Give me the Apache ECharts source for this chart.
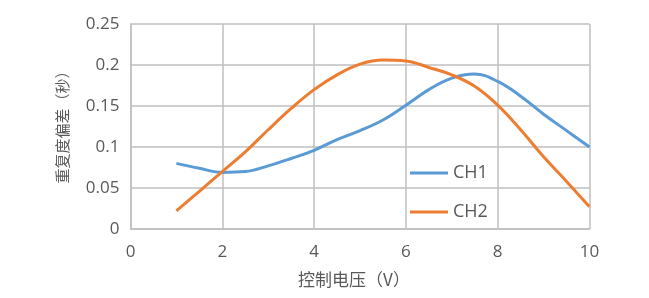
<!DOCTYPE html>
<html><head><meta charset="utf-8">
<script src="https://cdn.jsdelivr.net/npm/echarts@6/dist/echarts.min.js"></script>
<style>html,body{margin:0;padding:0;background:#fff}#c{width:649px;height:298px}</style>
</head><body><div id="c"></div>
<script>
var xValues = [1, 1.5, 2, 2.5, 3, 3.5, 4, 4.5, 5, 5.5, 6, 6.5, 7, 7.5, 8, 8.5, 9, 9.5, 10];
var ch1 = [0.080, 0.074, 0.069, 0.070, 0.077, 0.086, 0.096, 0.109, 0.120, 0.133, 0.151, 0.170, 0.184, 0.189, 0.180, 0.162, 0.140, 0.120, 0.100];
var ch2 = [0.022, 0.046, 0.070, 0.094, 0.121, 0.147, 0.170, 0.188, 0.201, 0.206, 0.205, 0.197, 0.188, 0.174, 0.151, 0.121, 0.088, 0.058, 0.027];
var seriesNames = ['CH1', 'CH2'];
var xName = '控制电压（V）';
var yName = '重复度偏差（秒）';

var font = '"Open Sans","Noto Sans CJK SC",sans-serif';
var cjkFont = '"Noto Sans CJK SC","Open Sans",sans-serif';
var chart = echarts.init(document.getElementById('c'));
function pairs(v){ return xValues.map(function(x,i){return [x, v[i]];}); }
chart.setOption({
  animation: false,
  textStyle: {fontFamily: font},
  grid: {left: 130.5, right: 59.5, top: 24, bottom: 69, containLabel: false},
  legend: {
    orient: 'vertical', left: 405, top: 158, icon: 'rect',
    itemWidth: 38, itemHeight: 3, itemGap: 19,
    textStyle: {fontSize: 18, color: '#595959', fontFamily: font, lineHeight: 20},
    data: seriesNames
  },
  xAxis: {
    type: 'value', min: 0, max: 10, interval: 2,
    name: xName, nameLocation: 'middle', nameGap: 42,
    nameTextStyle: {fontSize: 17, color: '#595959', fontFamily: cjkFont, padding: [0, 12, 0, 0]},
    axisLine: {show: true, lineStyle: {color: '#bfbfbf', width: 1.5}},
    axisTick: {show: false},
    axisLabel: {fontSize: 17, color: '#595959', margin: 15},
    splitLine: {show: true, lineStyle: {color: '#bfbfbf', width: 1.5}}
  },
  yAxis: {
    type: 'value', min: 0, max: 0.25, interval: 0.05,
    name: yName, nameLocation: 'middle', nameGap: 59, nameRotate: 90,
    nameTextStyle: {fontSize: 15, color: '#595959', fontFamily: font, padding: [0, 0, 0, 6]},
    axisLine: {show: true, lineStyle: {color: '#bfbfbf', width: 1.5}},
    axisTick: {show: false},
    axisLabel: {fontSize: 17, color: '#595959', margin: 11},
    splitLine: {show: true, lineStyle: {color: '#bfbfbf', width: 1.5}}
  },
  series: [
    {name: seriesNames[0], type: 'line', smooth: 0.4, showSymbol: false, symbol: 'none',
     data: pairs(ch1), lineStyle: {color: '#5b9bd5', width: 3}, itemStyle: {color: '#5b9bd5'}},
    {name: seriesNames[1], type: 'line', smooth: 0.4, showSymbol: false, symbol: 'none',
     data: pairs(ch2), lineStyle: {color: '#ed7d31', width: 3}, itemStyle: {color: '#ed7d31'}}
  ]
});
</script></body></html>
